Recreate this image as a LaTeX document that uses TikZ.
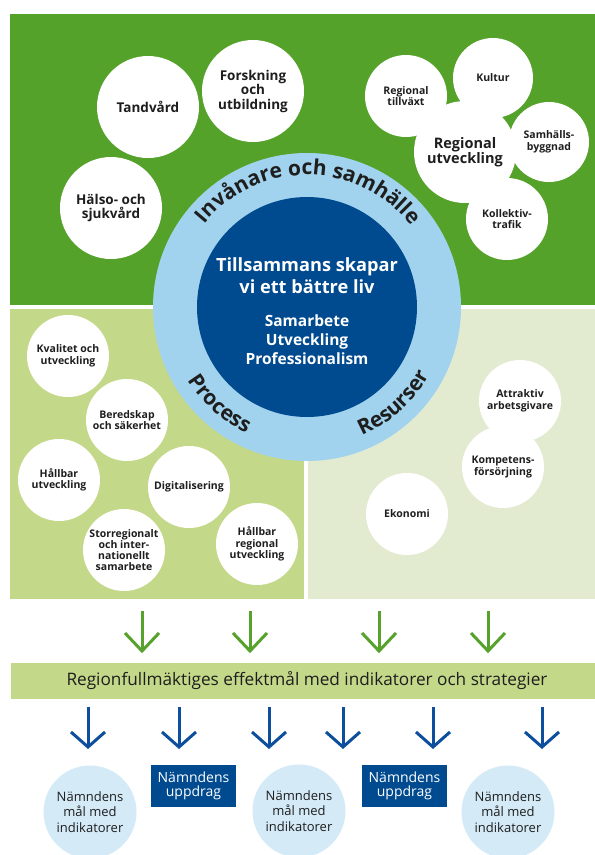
\documentclass[tikz,border=0pt]{standalone}
\usepackage{fontspec}
\setmainfont{Open Sans}
\usetikzlibrary{decorations.text}
\definecolor{topgreen}{RGB}{85,162,43}
\definecolor{midgreen}{RGB}{195,216,136}
\definecolor{palegreen}{RGB}{226,235,208}
\definecolor{ringblue}{RGB}{162,211,238}
\definecolor{darkblue}{RGB}{0,74,143}
\definecolor{paleblue}{RGB}{212,234,247}
\definecolor{txt}{RGB}{30,30,30}
\definecolor{arrgreen}{RGB}{86,162,45}
\definecolor{arrblue}{RGB}{13,79,156}
\begin{document}
\begin{tikzpicture}[x=1pt,y=-1pt,
  bigc/.style={circle, fill=white, inner sep=0pt, minimum size=102, align=center, text=txt,
    font=\bfseries\fontsize{13.5}{14.5}\selectfont},
  smc/.style={circle, fill=white, inner sep=0pt, minimum size=82, align=center, text=txt,
    font=\bfseries\fontsize{10.5}{11.5}\selectfont},
  goalc/.style={circle, fill=paleblue, inner sep=0pt, minimum size=93, align=center, text=txt,
    font=\fontsize{13}{15.5}\selectfont},
  taskbox/.style={rectangle, fill=darkblue, inner sep=0pt, minimum width=85, minimum height=42,
    align=center, text=white, font=\fontsize{14}{14.5}\selectfont},
  garr/.style={draw=arrgreen, line width=3pt},
  barr/.style={draw=arrblue, line width=3pt},
  ringtext/.style={decorate, decoration={text along path, text align=center, text color=txt,
    text={|\bfseries\fontsize{21}{21}\selectfont|#1}}}
]
\useasboundingbox (0,0) rectangle (595,855);
\clip (0,0) rectangle (595,855);
\fill[white] (0,0) rectangle (595,855);

% background regions
\fill[topgreen] (10,14) rectangle (595,305);
\fill[midgreen] (10,309) rectangle (304,599);
\fill[palegreen] (308,309) rectangle (595,599);

% top circles
\node[bigc] (tand) at (148,107) {Tandvård};
\node[bigc] (forsk) at (253,91) {Forskning\\och\\utbildning};
\node[bigc] (halso) at (111,208) {Hälso- och\\sjukvård};
\node[smc] (tillv) at (406,96) {Regional\\tillväxt};
\node[smc, minimum size=80] (kultur) at (493,78) {Kultur};
\node[smc, minimum size=80] (samh) at (549,142) {Samhälls-\\byggnad};
\node[smc] (koll) at (507,219) {Kollektiv-\\trafik};
\node[bigc, font=\bfseries\fontsize{14.5}{15}\selectfont] (regutv) at (465,152) {Regional\\utveckling};

% lower left circles
\node[smc] (kval) at (68,356) {Kvalitet och\\utveckling};
\node[smc] (bered) at (127,420) {Beredskap\\och säkerhet};
\node[smc] (hallb) at (59,480) {Hållbar\\utveckling};
\node[smc] (digi) at (189,487) {Digitalisering};
\node[smc, font=\bfseries\fontsize{10.5}{10.8}\selectfont] (storreg) at (124,550) {Storregionalt\\och inter-\\nationellt\\samarbete};
\node[smc] (hallreg) at (257,544) {Hållbar\\regional\\utveckling};

% lower right circles
\node[smc] (attr) at (520,401) {Attraktiv\\arbetsgivare};
\node[smc] (komp) at (503,467) {Kompetens-\\försörjning};
\node[smc] (eko) at (407,514) {Ekonomi};

% central rings
\node[circle, fill=ringblue, minimum size=308, inner sep=0pt] (ring) at (307,307) {};
\node[circle, fill=darkblue, minimum size=220, inner sep=0pt] (core) at (307,307) {};
\node[align=center, text=white, font=\bfseries\fontsize{18.2}{22}\selectfont] (motto) at (307,276)
  {Tillsammans skapar\\vi ett bättre liv};
\node[align=center, text=white, font=\bfseries\fontsize{15.5}{19}\selectfont] (values) at (307,340)
  {Samarbete\\Utveckling\\Professionalism};

\begin{scope}[shift={(307,307)}, x=1pt, y=1pt]
  \path[ringtext={Invånare och samhälle}] (150:132) arc[start angle=150, end angle=29, radius=132];
  \path[ringtext={Process}] (190:140) arc[start angle=190, end angle=266, radius=140];
  \path[ringtext={Resurser}] (-86:140) arc[start angle=-86, end angle=-10, radius=140];
\end{scope}

% green arrows
\foreach \x [count=\i] in {142,250,379,488}{
  \coordinate (gs\i) at (\x,611);
  \coordinate (ge\i) at (\x,651);
  \draw[garr] (gs\i) -- (ge\i);
  \draw[garr] (ge\i) ++(-17,-18) -- (ge\i) -- ++(17,-18);
}

% bar
\fill[midgreen] (11,663) rectangle (595,699);
\node[text=txt, font=\fontsize{17.2}{18}\selectfont] (bar) at (307,681)
  {Regionfullmäktiges effektmål med indikatorer och strategier};

% blue arrows
\foreach \x [count=\i] in {88,179,269,343,433,542}{
  \coordinate (bs\i) at (\x,707);
  \coordinate (be\i) at (\x,747);
  \draw[barr] (bs\i) -- (be\i);
  \draw[barr] (be\i) ++(-17,-15) -- (be\i) -- ++(17,-15);
}

% bottom goals
\node[goalc] (mal1) at (90,812) {Nämndens\\mål med\\indikatorer};
\node[goalc] (mal2) at (299,811) {Nämndens\\mål med\\indikatorer};
\node[goalc] (mal3) at (508,812) {Nämndens\\mål med\\indikatorer};
\node[taskbox] (upp1) at (193.5,786) {Nämndens\\uppdrag};
\node[taskbox] (upp2) at (404.5,786) {Nämndens\\uppdrag};
\end{tikzpicture}
\end{document}
